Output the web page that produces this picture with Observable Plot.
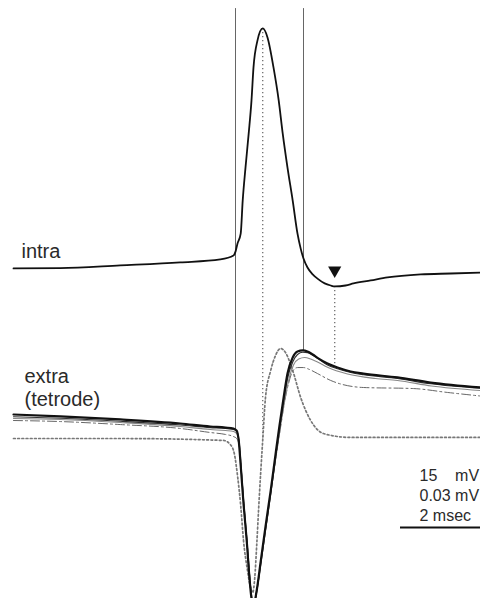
<!DOCTYPE html>
<html>
<head>
<meta charset="utf-8">
<script src="https://cdn.jsdelivr.net/npm/d3@7"></script>
<script src="https://cdn.jsdelivr.net/npm/@observablehq/plot@0.6"></script>
<style>
  html, body { margin: 0; padding: 0; background: #fff; overflow: hidden; }
</style>
</head>
<body>
<div id="chart"></div>
<script>
// Intracellular recording: time from spike onset (ms) and membrane potential (mV)
const intraTime = [-5.55, -4.38, -2.88, -1.38, -0.38, -0.05, 0, 0.05, 0.13, 0.18, 0.25, 0.33, 0.4, 0.45, 0.55, 0.68, 0.8, 0.95, 1.08, 1.18, 1.3, 1.43, 1.55, 1.63, 1.7, 1.8, 1.93, 2.05, 2.23, 2.38, 2.48, 2.75, 2.95, 3.38, 3.8, 4.63, 5.38, 6.13];
const intraMV   = [-59.3, -59.2, -58.3, -57.3, -56.3, -55, -53.7, -51, -47.7, -36.7, -25.7, -14.3, -3.3, 7.7, 16.7, 20.7, 17.7, 7.7, -3.3, -14.3, -25.7, -36.7, -47.7, -52.7, -56, -59, -61.3, -62.7, -64.3, -65, -65.3, -65, -64.3, -63.3, -62.3, -61.3, -61, -60.7];

// Tetrode channels: time (ms) and extracellular potential (µV)
const chanATime = [-5.55, -4.38, -2.88, -1.38, -0.63, -0.25, -0.05, 0.03, 0.08, 0.13, 0.2, 0.28, 0.35, 0.4, 0.45, 0.53, 0.63, 0.75, 0.88, 1.0, 1.1, 1.2, 1.3, 1.43, 1.55, 1.68, 1.8, 1.93, 2.08, 2.3, 2.55, 2.88, 3.2, 4.05, 4.88, 6.13];
const chanAuV   = [8, 6.7, 4.7, 2, 0, -0.7, -1.3, -2.7, -9.3, -26, -51.3, -76, -101.3, -114.7, -119.3, -109.3, -90, -66.7, -42.7, -18.7, 0.7, 18.7, 35.3, 46, 50, 50.7, 50, 48, 45.3, 42, 39.3, 36.7, 35.3, 32.7, 29.3, 26];
const chanBuV   = [6.5, 5.5, 3.5, 1, -0.7, -1.3, -2, -3.3, -8, -24, -49, -74, -99, -113, -118, -110, -92, -69, -45, -21, -2, 16, 32, 43, 48, 49.5, 49.3, 47.5, 45, 41, 38.5, 36, 34.5, 32, 28.5, 25.5];

const chanCTime = [-5.55, -4.38, -2.88, -1.38, -0.63, -0.25, -0.05, 0.03, 0.1, 0.15, 0.22, 0.3, 0.37, 0.42, 0.47, 0.55, 0.65, 0.78, 0.9, 1.03, 1.13, 1.23, 1.33, 1.45, 1.58, 1.73, 1.88, 2.05, 2.3, 2.8, 3.5, 4.05, 4.9, 6.13];
const chanCuV   = [5.3, 4.7, 2.7, 0, -2, -2.7, -3.3, -4.7, -12, -30, -55, -80, -104, -116, -118, -107, -88, -64, -41, -17, 1, 17, 31, 41, 45, 46, 45, 43, 39.5, 35, 32, 30.7, 27, 24];

const chanDTime = [-5.55, -4.38, -2.88, -1.38, -0.63, -0.25, -0.05, 0.03, 0.1, 0.15, 0.22, 0.3, 0.37, 0.42, 0.47, 0.55, 0.65, 0.78, 0.9, 1.03, 1.13, 1.23, 1.33, 1.43, 1.55, 1.7, 1.85, 2.05, 2.38, 3.2, 4.45, 5.3, 6.13];
const chanDuV   = [4, 3.3, 1.3, -1.3, -4, -5.3, -6.7, -8, -14, -31, -56, -81, -104, -115, -117, -106, -87, -63, -40, -17, 0, 17, 29, 37, 39.3, 39.3, 38, 35.3, 30.7, 26, 25.3, 22.7, 20.3];

const chanETime = [-5.55, -2.88, -0.3, -0.13, -0.03, 0.05, 0.13, 0.2, 0.3, 0.38, 0.43, 0.48, 0.53, 0.58, 0.63, 0.68, 0.75, 0.88, 1.0, 1.13, 1.25, 1.43, 1.63, 1.88, 2.2, 2.88, 6.13];
const chanEuV   = [-8, -8, -9.3, -12, -18, -32.7, -52.7, -76, -96, -108, -110.7, -101.3, -79.3, -54, -30.7, -9.3, 19.3, 37.3, 47.3, 52, 49.3, 37.3, 19.3, 4, -4.7, -7.3, -7.3];

// Event times (ms): spike onset / end, spike peak, AHP trough
const spikeBounds = [0, 1.7];
const spikePeak = 0.68;
const ahpTrough = 2.48;

// Scale bar labels and length
const scaleLabels = ["15\u00a0\u00a0\u00a0\u00a0mV", "0.03 mV", "2 msec"];
const scaleBarMs = 2;

// Extracellular traces share the intracellular axis: 30 µV spans the same height as 15 mV
const EXTRA_BASE = -112;
const UV_TO_DISPLAY = 15 / 30;
const toDisplay = uV => EXTRA_BASE + uV * UV_TO_DISPLAY;

const X_DOMAIN = [-5.875, 6.125];
const Y_DOMAIN = [-169.33, 30];
const MARKER_TOP = 27.3;
const SCALE_BAR_Y = -145.7;

function valueAt(time, values, t) {
  const i = d3.bisectLeft(time, t);
  if (i <= 0) return values[0];
  if (i >= time.length) return values[values.length - 1];
  const t0 = time[i - 1], t1 = time[i];
  return values[i - 1] + (values[i] - values[i - 1]) * (t - t0) / (t1 - t0);
}

const rows = (time, values, f = v => v) => time.map((t, i) => ({t, y: f(values[i])}));

const intra = rows(intraTime, intraMV);
const chanA = rows(chanATime, chanAuV, toDisplay);
const chanB = rows(chanATime, chanBuV, toDisplay);
const chanC = rows(chanCTime, chanCuV, toDisplay);
const chanD = rows(chanDTime, chanDuV, toDisplay);
const chanE = rows(chanETime, chanEuV, toDisplay);

const boundRules = spikeBounds.map(t => ({t, y1: MARKER_TOP, y2: toDisplay(valueAt(chanATime, chanAuV, t))}));
const guideRules = [
  {t: spikePeak, y1: valueAt(intraTime, intraMV, spikePeak), y2: toDisplay(valueAt(chanETime, chanEuV, spikePeak))},
  {t: ahpTrough, y1: valueAt(intraTime, intraMV, ahpTrough), y2: toDisplay(valueAt(chanATime, chanAuV, ahpTrough))}
];
const arrow = [{t: ahpTrough, y: valueAt(intraTime, intraMV, ahpTrough)}];
const scaleBar = [{x1: X_DOMAIN[1] - scaleBarMs, x2: X_DOMAIN[1], y: SCALE_BAR_Y}];

const curve = "monotone-x";
const font = "'Liberation Sans', Arial, Helvetica, sans-serif";

const chart = Plot.plot({
  width: 480,
  height: 598,
  margin: 0,
  style: {background: "#fff", fontFamily: font},
  x: {domain: X_DOMAIN, axis: null},
  y: {domain: Y_DOMAIN, axis: null},
  marks: [
    Plot.ruleX(boundRules, {x: "t", y1: "y1", y2: "y2", stroke: "#666", strokeWidth: 1}),
    Plot.ruleX(guideRules, {x: "t", y1: "y1", y2: "y2", stroke: "#777", strokeWidth: 1.4, strokeDasharray: "1.4,2.6"}),
    Plot.line(chanE, {x: "t", y: "y", curve, stroke: "#777", strokeWidth: 1.7, strokeDasharray: "1.8,2.4"}),
    Plot.line(chanD, {x: "t", y: "y", curve, stroke: "#666", strokeWidth: 1, strokeDasharray: "9,3,2,3"}),
    Plot.line(chanC, {x: "t", y: "y", curve, stroke: "#888", strokeWidth: 1.1}),
    Plot.line(chanB, {x: "t", y: "y", curve, stroke: "#333", strokeWidth: 1.2}),
    Plot.line(chanA, {x: "t", y: "y", curve, stroke: "#111", strokeWidth: 2.2}),
    Plot.line(intra, {x: "t", y: "y", curve, stroke: "#111", strokeWidth: 1.8}),
    Plot.dot(arrow, {x: "t", y: "y", symbol: "triangle2", rotate: 180, r: 6.3, dy: -16, fill: "#111", stroke: "none"}),
    Plot.text([intra[0]], {x: "t", y: "y", text: () => "intra", textAnchor: "start", lineAnchor: "bottom", dx: 8, dy: -10, fontSize: 20, fill: "#2a2a2a"}),
    Plot.text([chanA[0]], {x: "t", y: "y", text: () => "extra\n(tetrode)", textAnchor: "start", lineAnchor: "bottom", lineHeight: 1.12, dx: 11, dy: -9, fontSize: 20, fill: "#2a2a2a"}),
    Plot.ruleY(scaleBar, {x1: "x1", x2: "x2", y: "y", stroke: "#111", strokeWidth: 2}),
    Plot.text(scaleBar, {x: "x1", y: "y", text: () => scaleLabels.join("\n"), textAnchor: "start", lineAnchor: "bottom", lineHeight: 1.25, dx: 19, dy: -7, fontSize: 16, fill: "#2a2a2a"})
  ]
});

document.getElementById("chart").append(chart);
</script>
</body>
</html>
